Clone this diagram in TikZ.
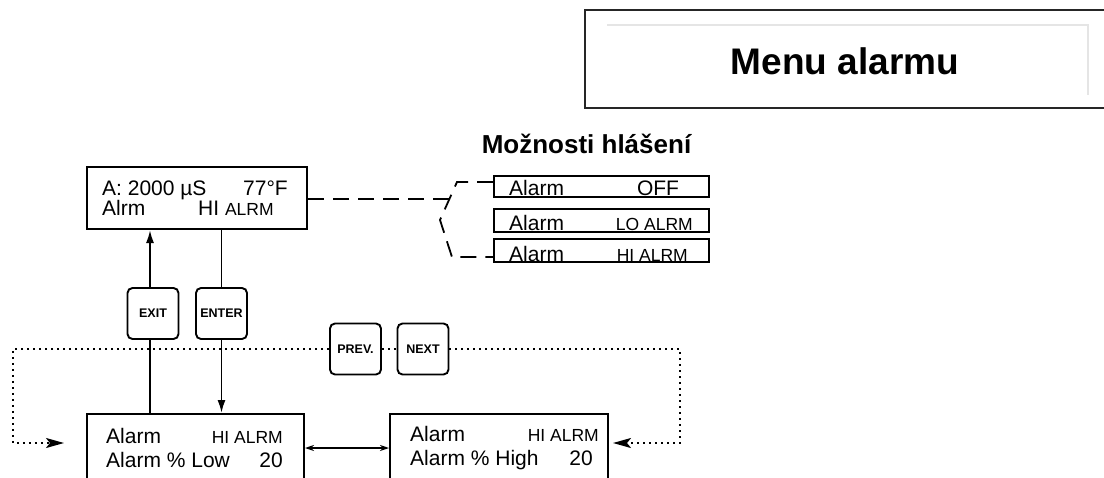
\documentclass[tikz,border=0pt]{standalone}
\usepackage{fontspec}
\setmainfont{Liberation Sans}
\usetikzlibrary{arrows.meta}
\begin{document}
\begin{tikzpicture}[x=1pt,y=-1pt,
  box/.style={draw, line width=2pt, inner sep=0pt, rectangle},
  btn/.style={draw, line width=1.9pt, rounded corners=5pt, minimum width=51pt, minimum height=51pt, inner sep=0pt, font=\fontsize{12.5}{12.5}\selectfont\bfseries},
  txt/.style={font=\fontsize{21}{21}\selectfont, inner sep=0pt},
  sm/.style={font=\fontsize{17.5}{17.5}\selectfont, inner sep=0pt},
  arr/.style={line width=1.8pt, -{Latex[length=13pt,width=8pt]}},
  darr/.style={line width=1.4pt, {Stealth[length=9pt,width=6pt]}-{Stealth[length=9pt,width=6pt]}},
  dotline/.style={line width=2pt, dash pattern=on 2pt off 4pt},
  dotarr/.style={dotline, -{Stealth[length=18pt,width=10pt,inset=4pt]}},
  dashline/.style={line width=1.8pt, dash pattern=on 16pt off 9pt}
]
\useasboundingbox (0,0) rectangle (1104,477);
\clip (0,0) rectangle (1104,477);
% title frame
\draw[line width=2pt, black!85] (585,10) rectangle (1115,108);
\draw[line width=2pt, black!10] (607,25) -- (1088,25) -- (1088,95);
\node[font=\fontsize{37}{37}\selectfont\bfseries, inner sep=0pt] (title) at (845,61) {Menu alarmu};
\node[font=\fontsize{26}{26}\selectfont\bfseries, inner sep=0pt, anchor=base] (opts) at (586.5,153) {Možnosti hlášení};
% boxes
\node[box, minimum width=220pt, minimum height=62pt] (top) at (197,198) {};
\node[box, minimum width=215pt, minimum height=21pt] (o1) at (601.5,186.5) {};
\node[box, minimum width=215pt, minimum height=23pt] (o2) at (601.5,220.5) {};
\node[box, minimum width=215pt, minimum height=23pt] (o3) at (601.5,250.5) {};
\node[btn] (exit) at (153,313.5) {EXIT};
\node[btn] (enter) at (221.5,313.5) {ENTER};
\node[btn] (prev) at (355.5,349) {PREV.};
\node[btn] (next) at (423,349) {NEXT};
\node[box, minimum width=217pt, minimum height=80pt] (l1) at (195.5,454) {};
\node[box, minimum width=218pt, minimum height=80pt] (l2) at (499,454) {};
% texts top box
\node[txt, anchor=base west] (t1a) at (102,195) {A: 2000 µS};
\node[txt, anchor=base east] (t1b) at (288,195) {77°F};
\node[txt, anchor=base west] (t2a) at (102,215) {Alrm};
\node[txt, anchor=base west] (t2b) at (198,215) {HI {\fontsize{17.5}{17.5}\selectfont ALRM}};
% option texts
\node[txt, anchor=base west] (o1a) at (509,195) {Alarm};
\node[txt, anchor=base] (o1b) at (658,195) {OFF};
\node[txt, anchor=base west] (o2a) at (509,230) {Alarm};
\node[sm, anchor=base east] (o2b) at (693,230) {LO ALRM};
\node[txt, anchor=base west] (o3a) at (509,261) {Alarm};
\node[sm, anchor=base east] (o3b) at (688,261) {HI ALRM};
% lower boxes texts
\node[txt, anchor=base west] (l1a) at (106,443) {Alarm};
\node[sm, anchor=base east] (l1b) at (283,443) {HI ALRM};
\node[txt, anchor=base west] (l1c) at (106,467) {Alarm \% Low};
\node[txt, anchor=base east] (l1d) at (283,467) {20};
\node[txt, anchor=base west] (l2a) at (410,441) {Alarm};
\node[sm, anchor=base east] (l2b) at (599,441) {HI ALRM};
\node[txt, anchor=base west] (l2c) at (410,465) {Alarm \% High};
\node[txt, anchor=base east] (l2d) at (593,465) {20};
% connectors
\draw[arr] ([xshift=-3pt]exit.north) -- ([xshift=-3pt]exit.north |- top.south);
\draw[line width=1.8pt] ([xshift=-3pt]exit.south) -- ([xshift=-3pt]exit.south |- l1.north);
\draw[line width=1.8pt] (top.south -| enter.north) -- (enter.north);
\draw[arr] (enter.south) -- (enter.south |- l1.north);
\draw[darr] (l1.east |- 0,448) -- (l2.west |- 0,448);
% dotted loop
\coordinate (dl) at (13,443);
\coordinate (al) at (64,443);
\coordinate (dr) at (680,443);
\coordinate (ar) at (613,443);
\draw[dotarr] (prev.west) -| (dl) -- (al);
\draw[dotline] (prev.east) -- (next.west);
\draw[dotarr] (next.east) -| (dr) -- (ar);
% dashed options
\draw[dashline] (top.east |- 0,199) -- (449,199);
\draw[dashline] (o1.west |- 0,182) -- (457,182) -- (440,220) -- (452,257) -- (o3.west |- 0,257);
\end{tikzpicture}
\end{document}
